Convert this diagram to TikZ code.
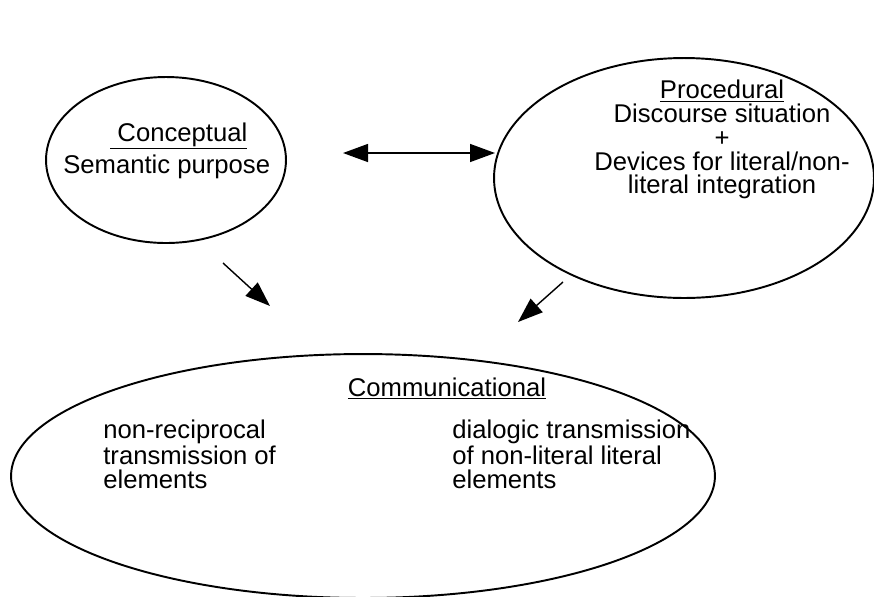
\documentclass[tikz,border=0pt]{standalone}
\usepackage{fontspec}
\setmainfont{Liberation Sans}
\usetikzlibrary{shapes.geometric,arrows.meta}

\begin{document}
\begin{tikzpicture}[x=0.02cm,y=-0.02cm,>={Triangle[length=0.5cm,width=0.36cm]},
    bubble/.style={draw,ellipse,line width=1.1pt,inner sep=0pt},
    txt/.style={inner sep=0pt,font=\fontsize{14.6}{13.5}\selectfont}]
        \useasboundingbox (0,0) rectangle (874,596);
        \node[bubble,minimum width=4.8cm,minimum height=3.32cm] (concept) at (166,160) {};
        \node[bubble,minimum width=7.6cm,minimum height=4.8cm] (proc) at (684,178) {};
        \node[bubble,minimum width=14.08cm,minimum height=4.88cm] (comm) at (363,476) {};

        \node[txt,anchor=base west] (conceptlbl) at (110,141) {\underline{\ Conceptual}};
        \node[txt,anchor=base west] (semantic) at (63,173) {Semantic purpose};
        \node[txt,anchor=north,align=center] (proclbl) at (722,80) {\underline{Procedural}\\Discourse situation\\+\\Devices for literal/non-\\literal integration};
        \node[txt,anchor=base] (commlbl) at (447,396) {\underline{Communicational}};
        \node[txt,anchor=north west,align=left] (nonrecip) at (103,420) {non-reciprocal\\transmission of\\elements};
        \node[txt,anchor=north west,align=left] (dialogic) at (452,420) {dialogic transmission\\of non-literal literal\\elements};

        \coordinate (lr1) at (343,153);
        \coordinate (lr2) at (495,153);
        \coordinate (cd1) at (223,263);
        \coordinate (cd2) at (270,306);
        \coordinate (pd1) at (563,282);
        \coordinate (pd2) at (518,322);
        \path[draw,thick,<->] (lr1) -- (lr2);
        \path[draw,thick,->] (cd1) -- (cd2);
        \path[draw,thick,->] (pd1) -- (pd2);
    \end{tikzpicture}
\end{document}
